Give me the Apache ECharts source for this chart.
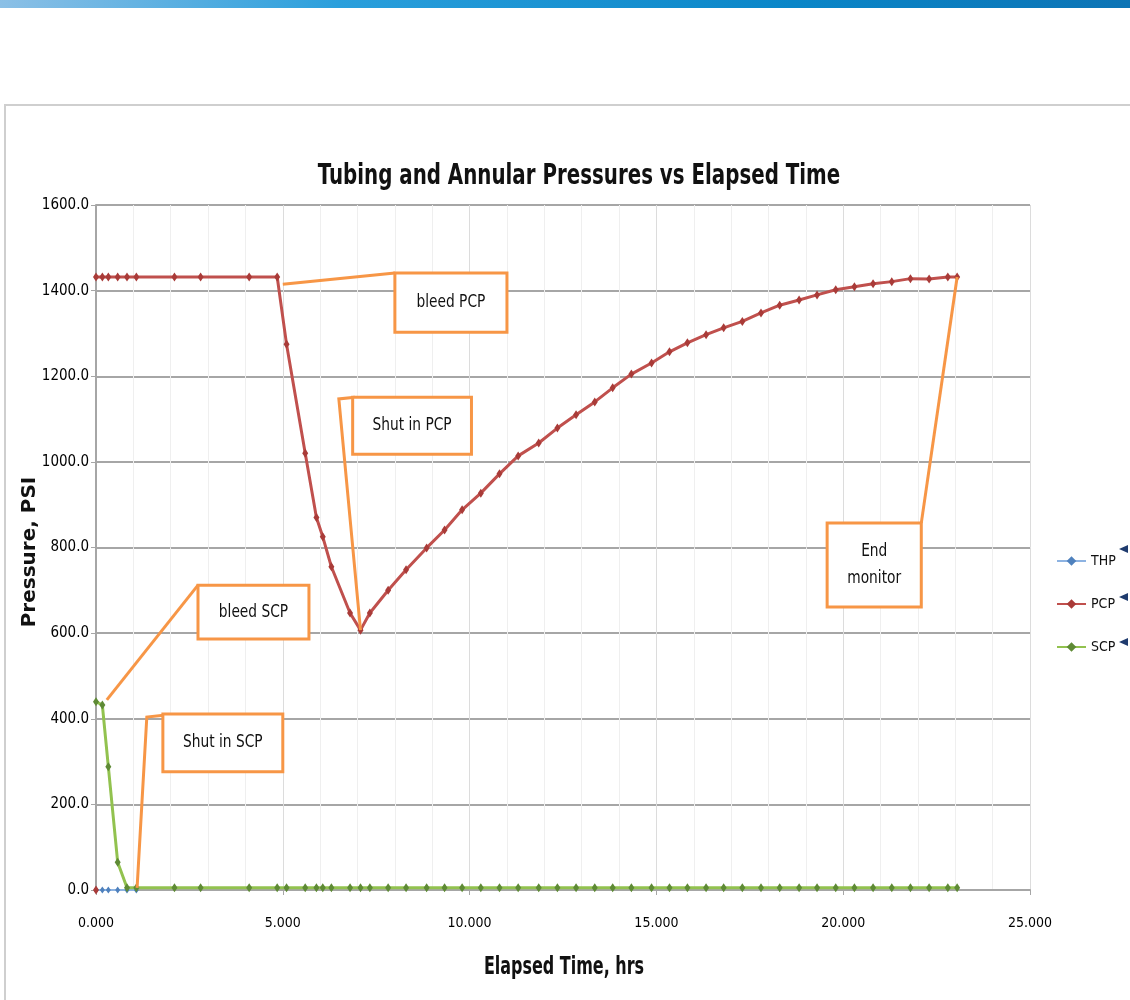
<!DOCTYPE html>
<html>
<head>
<meta charset="utf-8">
<script src="https://cdn.jsdelivr.net/npm/echarts@6/dist/echarts.min.js"></script>
<style>
  html, body { margin: 0; padding: 0; background: #fff; }
  #chart { width: 1130px; height: 1000px; }
</style>
</head>
<body>
<div id="chart"></div>
<script>
// elapsed time, hrs (shared by all series)
const times = [0, 0.17, 0.33, 0.58, 0.83, 1.08, 2.1, 2.8, 4.1, 4.85, 5.1, 5.6, 5.9, 6.07, 6.3, 6.8, 7.08,
  7.33, 7.82, 8.3, 8.85, 9.33, 9.8, 10.3, 10.8, 11.3, 11.85, 12.35, 12.85, 13.35, 13.83, 14.33, 14.87,
  15.35, 15.83, 16.33, 16.8, 17.3, 17.8, 18.3, 18.82, 19.3, 19.8, 20.3, 20.8, 21.3, 21.8, 22.3, 22.8, 23.05]

const pcpValues = [1432, 1432, 1432, 1432, 1432, 1432, 1432, 1432, 1432, 1432, 1275, 1020, 870, 825, 755, 647, 607,
  647, 700, 748, 799, 841, 888, 927, 972, 1014, 1044, 1079, 1110, 1140, 1173, 1205, 1231,
  1257, 1278, 1297, 1313, 1328, 1348, 1366, 1378, 1390, 1402, 1409, 1416, 1421, 1428, 1427, 1432, 1432]

const scpValues = [440, 432, 288, 65, 5, 5, 5, 5, 5, 5, 5, 5, 5, 5, 5, 5, 5,
  5, 5, 5, 5, 5, 5, 5, 5, 5, 5, 5, 5, 5, 5, 5, 5,
  5, 5, 5, 5, 5, 5, 5, 5, 5, 5, 5, 5, 5, 5, 5, 5, 5]

const thpValues = [0, 0, 0, 0, 0, 0]
const pcpFirstReading = [0, 0]

const xTicks = [0, 5, 10, 15, 20, 25]
const yTicks = [0, 200, 400, 600, 800, 1000, 1200, 1400, 1600]

// callout boxes: [x1, y1, x2, y2] in data units, leader polyline in data units
const callouts = [
  { text: 'bleed PCP', box: [8.0, 1441, 11.0, 1303], leader: [[5.0, 1415], [8.0, 1441]] },
  { text: 'Shut in PCP', box: [6.87, 1151, 10.05, 1018], leader: [[6.93, 1151], [6.5, 1147], [7.08, 607]] },
  { text: 'bleed SCP', box: [2.73, 712, 5.7, 586], leader: [[0.29, 444], [2.73, 712]] },
  { text: 'Shut in SCP', box: [1.79, 411, 5.0, 276], leader: [[1.87, 409], [1.36, 404], [1.1, 5]] },
  { text: 'End\nmonitor', box: [19.57, 857, 22.09, 661], leader: [[22.09, 857], [23.05, 1432]] }
]

const narrow = "'DejaVu Sans Condensed', 'Liberation Sans Narrow', sans-serif"
const orange = '#f79646'

const zip = (xs, ys) => ys.map((v, i) => [xs[i], v])

const chart = echarts.init(document.getElementById('chart'))

const option = {
  animation: false,
  backgroundColor: '#ffffff',
  legend: {
    data: ['THP', 'PCP', 'SCP'],
    orient: 'vertical',
    left: 1051,
    top: 549,
    itemWidth: 29,
    itemHeight: 12,
    itemGap: 29,
    textStyle: { fontFamily: narrow, fontSize: 14, color: '#111' }
  },
  grid: { left: 96, right: 100, top: 205, bottom: 110, containLabel: false },
  xAxis: {
    type: 'value',
    min: xTicks[0],
    max: xTicks[xTicks.length - 1],
    interval: 5,
    axisLine: { lineStyle: { color: '#a6a6a6', width: 2 } },
    axisTick: { show: true, length: 5, lineStyle: { color: '#a6a6a6' } },
    axisLabel: {
      margin: 26, fontFamily: narrow, fontSize: 14, color: '#000',
      formatter: v => v.toFixed(3)
    },
    splitLine: { show: true, lineStyle: { color: '#dcdcdc', width: 1 } },
    minorTick: { show: false, splitNumber: 5 },
    minorSplitLine: { show: true, lineStyle: { color: '#efefef', width: 1 } }
  },
  yAxis: {
    type: 'value',
    min: yTicks[0],
    max: yTicks[yTicks.length - 1],
    interval: 200,
    axisLine: { show: true, lineStyle: { color: '#a6a6a6', width: 2 } },
    axisTick: { show: true, length: 5, lineStyle: { color: '#a6a6a6' } },
    axisLabel: {
      margin: 7, fontFamily: narrow, fontSize: 15, color: '#000',
      formatter: v => v.toFixed(1)
    },
    splitLine: { lineStyle: { color: '#a6a6a6', width: 2 } }
  },
  series: [
    {
      name: 'THP',
      type: 'line',
      data: zip(times, thpValues),
      symbol: 'diamond',
      symbolSize: [5, 7],
      lineStyle: { color: '#8db3e2', width: 2 },
      itemStyle: { color: '#4f81bd' },
      z: 3
    },
    {
      name: 'PCP',
      type: 'line',
      data: [pcpFirstReading, [pcpFirstReading[0], '-']].concat(zip(times, pcpValues)),
      symbol: 'diamond',
      symbolSize: [6, 9],
      lineStyle: { color: '#c0504d', width: 3 },
      itemStyle: { color: '#a93b38' },
      z: 4
    },
    {
      name: 'SCP',
      type: 'line',
      data: zip(times, scpValues),
      symbol: 'diamond',
      symbolSize: [6, 9],
      lineStyle: { color: '#92c24f', width: 3 },
      itemStyle: { color: '#5e8a35' },
      z: 5
    }
  ]
}

chart.setOption(option)

// slide chrome, titles and callouts
const graphics = [
  {
    type: 'rect', shape: { x: 0, y: 0, width: 1130, height: 8 }, silent: true,
    style: {
      fill: new echarts.graphic.LinearGradient(0, 0, 1, 0, [
        { offset: 0, color: '#8cc0e6' },
        { offset: 0.3, color: '#2a9fdc' },
        { offset: 0.7, color: '#0a86c8' },
        { offset: 1, color: '#0d74b5' }
      ])
    }
  },
  {
    type: 'rect', shape: { x: 5, y: 105, width: 1140, height: 920 }, silent: true,
    style: { fill: 'none', stroke: '#cfcfcf', lineWidth: 2 }
  },
  {
    type: 'text', silent: true, x: 579, y: 176, scaleX: 0.76,
    style: {
      text: 'Tubing and Annular Pressures vs Elapsed Time', x: 0, y: 0,
      fontFamily: narrow, fontSize: 29, fontWeight: 'bold', fill: '#111',
      align: 'center', verticalAlign: 'middle'
    }
  },
  {
    type: 'text', silent: true, x: 564, y: 968, scaleX: 0.74,
    style: {
      text: 'Elapsed Time, hrs', x: 0, y: 0,
      fontFamily: narrow, fontSize: 24, fontWeight: 'bold', fill: '#111',
      align: 'center', verticalAlign: 'middle'
    }
  },
  {
    type: 'text', silent: true, x: 30, y: 552, rotation: Math.PI / 2,
    style: {
      text: 'Pressure, PSI', x: 0, y: 0,
      fontFamily: "'DejaVu Sans', sans-serif", fontSize: 20, fontWeight: 'bold', fill: '#111',
      align: 'center', verticalAlign: 'middle'
    }
  }
]

// legend arrows
;[549, 597, 642].forEach(y => {
  graphics.push({
    type: 'polygon', silent: true,
    shape: { points: [[1119, y], [1128, y - 4], [1128, y + 4]] },
    style: { fill: '#1f3b6e' }
  })
})

const px = p => chart.convertToPixel({ gridIndex: 0 }, p)

callouts.forEach(c => {
  const a = px([c.box[0], c.box[1]])
  const b = px([c.box[2], c.box[3]])
  graphics.push({
    type: 'polyline', silent: true, z: 100,
    shape: { points: c.leader.map(px) },
    style: { stroke: orange, lineWidth: 3, fill: null }
  })
  graphics.push({
    type: 'rect', silent: true, z: 101,
    shape: { x: a[0], y: a[1], width: b[0] - a[0], height: b[1] - a[1] },
    style: { fill: '#ffffff', stroke: orange, lineWidth: 3 }
  })
  graphics.push({
    type: 'text', silent: true, z: 102,
    x: (a[0] + b[0]) / 2, y: (a[1] + b[1]) / 2, scaleX: 0.9,
    style: {
      text: c.text, x: 0, y: 0, fontFamily: narrow, fontSize: 17, fill: '#111',
      align: 'center', verticalAlign: 'middle', lineHeight: 27
    }
  })
})

chart.setOption({ graphic: graphics })
</script>
</body>
</html>
